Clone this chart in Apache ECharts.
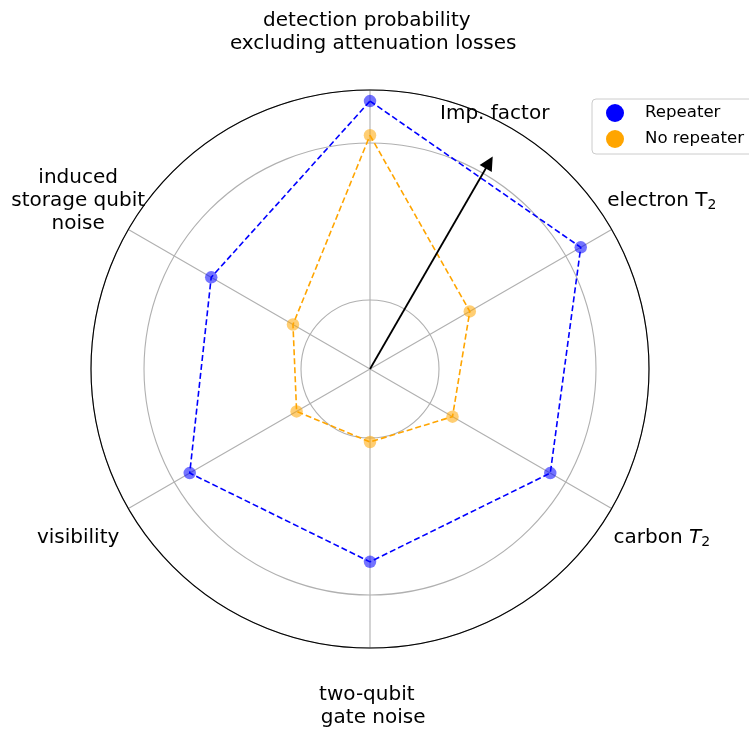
<!DOCTYPE html>
<html>
<head>
<meta charset="utf-8">
<script src="https://cdn.jsdelivr.net/npm/echarts@6/dist/echarts.min.js"></script>
<style>
  html, body { margin: 0; padding: 0; background: #fff; }
  #chart { width: 749px; height: 729px; }
</style>
</head>
<body>
<div id="chart"></div>
<script>
// ---- data ----
const categories = [
  'detection probability \n excluding attenuation losses',
  'electron T{sub|2}',
  'carbon {it|T}{sub|2}',
  'two-qubit \n gate noise',
  'visibility',
  'induced\nstorage qubit\nnoise'
];
const categoryAngles = [0, 60, 120, 180, 240, 300];
const repeater = [18.5, 12.9, 7.7, 6.15, 7.7, 5.35];
const noRepeater = [11.2, 1.97, 1.47, 1.06, 1.26, 1.34];
const seriesNames = ['Repeater', 'No repeater'];
const radiusMin = 0.3635;
const radiusMax = 21.76;
const arrowAngle = 30;
const arrowLength = 12.0;
const arrowLabel = 'Imp. factor';

const FONT = 'DejaVu Sans';
const BLACK = '#000000';

function closedData(values) {
  const d = values.map((v, i) => [v, categoryAngles[i]]);
  d.push({ value: [values[0], categoryAngles[0]], symbol: 'none' });
  return d;
}

const chart = echarts.init(document.getElementById('chart'), null, { renderer: 'canvas' });

const angleAxisCommon = {
  type: 'value', min: 0, max: 360, interval: 60,
  startAngle: 90, clockwise: true,
  axisTick: { show: false },
  axisLabel: { show: false }
};

const option = {
  animation: false,
  backgroundColor: '#ffffff',
  textStyle: { fontFamily: FONT, color: BLACK },
  polar: [
    { center: [370, 369], radius: 279 },
    { center: [370, 369], radius: 337 }
  ],
  angleAxis: [
    Object.assign({}, angleAxisCommon, {
      polarIndex: 0, z: 3,
      axisLine: { show: true, lineStyle: { color: BLACK, width: 1.1 } },
      splitLine: { show: true, lineStyle: { color: '#b0b0b0', width: 1.1 } }
    }),
    Object.assign({}, angleAxisCommon, {
      polarIndex: 1,
      axisLine: { show: false },
      splitLine: { show: false }
    })
  ],
  radiusAxis: [
    {
      polarIndex: 0, type: 'log', logBase: 10,
      min: radiusMin, max: radiusMax,
      axisLine: { show: false }, axisTick: { show: false }, axisLabel: { show: false },
      splitLine: { show: true, lineStyle: { color: '#b0b0b0', width: 1.1 } }
    },
    {
      polarIndex: 1, type: 'value', min: 0, max: 1,
      axisLine: { show: false }, axisTick: { show: false }, axisLabel: { show: false },
      splitLine: { show: false }
    }
  ],
  legend: {
    data: seriesNames.map(n => ({ name: n, icon: 'circle' })),
    orient: 'vertical',
    left: 592, top: 99,
    padding: [5, 14, 6, 14],
    itemWidth: 18, itemHeight: 18, itemGap: 8,
    borderColor: '#cccccc', borderWidth: 1, borderRadius: 4,
    backgroundColor: 'rgba(255,255,255,0.8)',
    itemStyle: { opacity: 1 },
    textStyle: { fontFamily: FONT, fontSize: 16.6, color: BLACK, padding: [0, 0, 0, 16] }
  },
  graphic: [
    {
      type: 'text', left: 440, top: 104, z: 10,
      style: { text: arrowLabel, font: '20px "DejaVu Sans"', fill: BLACK }
    }
  ],
  series: [
    {
      name: 'Repeater', type: 'line', coordinateSystem: 'polar', polarIndex: 0,
      data: closedData(repeater),
      symbol: 'circle', symbolSize: 12.5,
      itemStyle: { color: '#0000ff', opacity: 0.55 },
      lineStyle: { color: '#0000ff', width: 1.6, type: [6, 3] },
      z: 4,
      markLine: {
        silent: true,
        symbol: ['none', 'triangle'],
        symbolSize: 14,
        label: { show: false },
        lineStyle: { color: BLACK, width: 1.8, type: 'solid' },
        data: [[{ coord: [radiusMin, arrowAngle] }, { coord: [arrowLength, arrowAngle] }]]
      }
    },
    {
      name: 'No repeater', type: 'line', coordinateSystem: 'polar', polarIndex: 0,
      data: closedData(noRepeater),
      symbol: 'circle', symbolSize: 12.5,
      itemStyle: { color: '#ffa500', opacity: 0.55 },
      lineStyle: { color: '#ffa500', width: 1.6, type: [6, 3] },
      z: 4
    },
    {
      name: 'labels', type: 'scatter', coordinateSystem: 'polar', polarIndex: 1,
      data: categories.map((c, i) => ({ value: [1, categoryAngles[i]], name: c })),
      symbolSize: 0, silent: true,
      itemStyle: { color: BLACK, opacity: 1 },
      label: {
        show: true, position: [0, 0], opacity: 1,
        formatter: p => p.name,
        color: BLACK, textBorderWidth: 0,
        fontFamily: FONT, fontSize: 20, lineHeight: 23,
        align: 'center', verticalAlign: 'middle',
        rich: {
          sub: { fontSize: 14, lineHeight: 13, verticalAlign: 'bottom', fontFamily: FONT, color: BLACK },
          it: { fontSize: 20, fontStyle: 'italic', fontFamily: FONT, color: BLACK, lineHeight: 23 }
        }
      }
    }
  ]
};

chart.setOption(option);
</script>
</body>
</html>
